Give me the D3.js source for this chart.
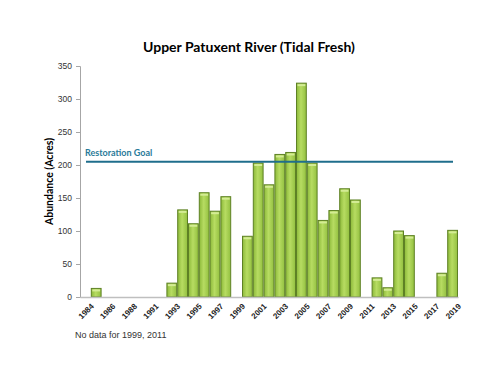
<!DOCTYPE html>
<html>
<head>
<meta charset="utf-8">
<script src="https://cdn.jsdelivr.net/npm/d3@7"></script>
<style>
  body { margin: 0; background: #fff; }
  svg { display: block; }
</style>
</head>
<body>
<div id="chart"></div>
<script>
// data (0 = no bar / no data)
var years = ['1984','1985','1986','1987','1988','1989','1991','1992','1993','1994','1995','1996','1997','1998','1999',
             '2000','2001','2002','2003','2004','2005','2006','2007','2008','2009','2010','2011','2012','2013','2014',
             '2015','2016','2017','2018','2019'];
var acres = [0, 13, 0, 0, 0, 0, 0, 0, 21, 132, 111, 158, 130, 152, 0,
             92, 203, 170, 216, 219, 324, 203, 116, 131, 164, 147, 0, 29, 14, 100,
             93, 0, 0, 36, 101];
var yTicks = [0, 50, 100, 150, 200, 250, 300, 350];
var goal = 205;

var w = 500, h = 384;
var plotLeft = 80, plotRight = 458, plotTop = 66, plotBottom = 297;

var svg = d3.select('#chart').append('svg').attr('width', w).attr('height', h);

var grad = svg.append('defs').append('linearGradient').attr('id', 'barfill')
    .attr('x1', '0%').attr('x2', '100%').attr('y1', '0%').attr('y2', '0%');
grad.append('stop').attr('offset', '0%').attr('stop-color', '#8dba3a');
grad.append('stop').attr('offset', '45%').attr('stop-color', '#b7dc62');
grad.append('stop').attr('offset', '100%').attr('stop-color', '#93c040');

var x = d3.scaleBand().domain(years).range([plotLeft, plotRight]).padding(0);
var y = d3.scaleLinear().domain([0, 350]).range([plotBottom, plotTop]);

// title
svg.append('text').attr('x', 249).attr('y', 52).attr('text-anchor', 'middle')
    .style('font-family', 'Lato, sans-serif').style('font-weight', 'bold').style('font-size', '14px')
    .text('Upper Patuxent River (Tidal Fresh)');

var barData = years.map(function(d, i){ return {year: d, v: acres[i]}; })
    .filter(function(d){ return d.v > 0; });

// bars
svg.selectAll('rect.bar').data(barData)
    .enter().append('rect').attr('class', 'bar')
    .attr('x', function(d){ return x(d.year) + 0.5; })
    .attr('y', function(d){ return y(d.v); })
    .attr('width', x.bandwidth() - 1)
    .attr('height', function(d){ return plotBottom - y(d.v); })
    .style('fill', 'url(#barfill)')
    .style('stroke', '#5e8125').style('stroke-width', 1);

// light top caps (3d look)
svg.selectAll('rect.cap').data(barData)
    .enter().append('rect').attr('class', 'cap')
    .attr('x', function(d){ return x(d.year) + 1.5; })
    .attr('y', function(d){ return y(d.v) + 1; })
    .attr('width', x.bandwidth() - 3)
    .attr('height', 2)
    .style('fill', '#d4ec95');

// y axis
var yAxis = d3.axisLeft(y).tickValues(yTicks).tickSize(4).tickPadding(4);
var gy = svg.append('g').attr('transform', 'translate(' + plotLeft + ',0)').call(yAxis);
gy.select('.domain').attr('stroke', '#a6a6a6');
gy.selectAll('.tick line').attr('stroke', '#a6a6a6');
gy.selectAll('.tick text').style('font-family', 'Liberation Sans, Arial, sans-serif')
    .style('font-size', '8.5px').attr('fill', '#333');

// x axis
var xAxis = d3.axisBottom(x).tickValues(years.filter(function(d, i){ return i % 2 === 0; }))
    .tickSize(0).tickPadding(6);
var gx = svg.append('g').attr('transform', 'translate(0,' + plotBottom + ')').call(xAxis);
gx.select('.domain').attr('stroke', '#bfbfbf').attr('stroke-width', 1.5);
gx.selectAll('.tick text')
    .style('font-family', 'Liberation Sans, Arial, sans-serif').style('font-size', '8px')
    .style('font-weight', 'bold').attr('fill', '#222')
    .attr('text-anchor', 'end').attr('dy', '0.3em')
    .attr('transform', 'translate(3,4) rotate(-45)');

// y label
svg.append('text').attr('transform', 'translate(53,' + ((plotTop + plotBottom) / 2) + ') rotate(-90)')
    .attr('text-anchor', 'middle')
    .style('font-family', 'Lato, sans-serif').style('font-weight', 'bold').style('font-size', '10.5px')
    .text('Abundance (Acres)');

// restoration goal
svg.append('line').attr('x1', 86).attr('x2', 453).attr('y1', y(goal)).attr('y2', y(goal))
    .attr('stroke', '#1f6e8c').attr('stroke-width', 2);
svg.append('text').attr('x', 85).attr('y', y(goal) - 6)
    .style('font-family', 'Lato, sans-serif').style('font-weight', 'bold').style('font-size', '9px')
    .attr('fill', '#2a7a99').text('Restoration Goal');

// note
svg.append('text').attr('x', 75).attr('y', 338)
    .style('font-family', 'Liberation Sans, Arial, sans-serif').style('font-size', '9px').attr('fill', '#333')
    .text('No data for 1999, 2011');
</script>
</body>
</html>
